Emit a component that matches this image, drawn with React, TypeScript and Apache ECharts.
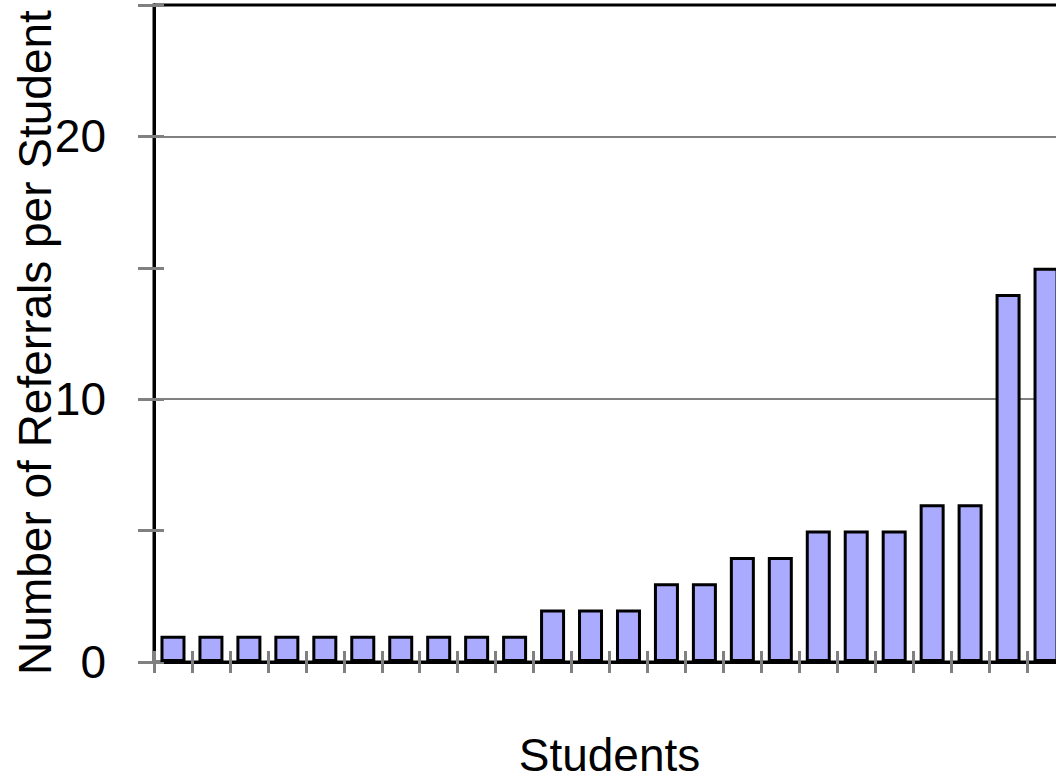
import React, { useEffect, useRef } from "react";
import * as echarts from "echarts";

const categories: string[] = [
  "1", "2", "3", "4", "5", "6", "7", "8", "9", "10", "11", "12",
  "13", "14", "15", "16", "17", "18", "19", "20", "21", "22", "23", "24",
];
const referrals: number[] = [1, 1, 1, 1, 1, 1, 1, 1, 1, 1, 2, 2, 2, 3, 3, 4, 4, 5, 5, 5, 6, 6, 14, 15];
const yLabelValues: number[] = [0, 10, 20];
const gridlineValues: number[] = [10, 20];
const xTitle = "Students";
const yTitle = "Number of Referrals per Student";

const FONT = "'Liberation Sans', Arial, sans-serif";
const GRAY = "#808080";

export default function App() {
  const ref = useRef<HTMLDivElement>(null);
  useEffect(() => {
    if (!ref.current) return;
    const chart = echarts.init(ref.current, undefined, { renderer: "svg" });
    chart.setOption({
      animation: false,
      backgroundColor: "#ffffff",
      textStyle: { fontFamily: FONT },
      grid: {
        left: 154,
        top: 5,
        right: 15,
        bottom: 118,
        containLabel: false,
        outerBoundsMode: "none",
        show: true,
        borderColor: "#000000",
        borderWidth: 3,
        backgroundColor: "transparent",
      },
      xAxis: [
        {
          type: "category",
          data: categories,
          position: "bottom",
          name: xTitle,
          nameLocation: "middle",
          nameGap: 70,
          nameMoveOverlap: false,
          nameTextStyle: { fontSize: 46, color: "#000", fontFamily: FONT },
          axisLine: { show: true, lineStyle: { color: "#000", width: 3 } },
          axisTick: { show: true, length: 11, lineStyle: { color: GRAY, width: 3 } },
          axisLabel: { show: false },
          splitLine: { show: false },
        },
        {
          type: "category",
          data: categories,
          position: "bottom",
          axisLine: { show: false },
          axisTick: { show: true, inside: true, length: 11, lineStyle: { color: GRAY, width: 3 } },
          axisLabel: { show: false },
          splitLine: { show: false },
        },
      ],
      yAxis: [
        {
          type: "value",
          min: 0,
          max: 25,
          interval: 5,
          position: "left",
          name: yTitle,
          nameLocation: "middle",
          nameGap: 96,
          nameMoveOverlap: false,
          nameTextStyle: { fontSize: 46, color: "#000", fontFamily: FONT, padding: [0, 18, 0, 0] },
          axisLine: { show: true, lineStyle: { color: "#000", width: 3 } },
          axisTick: { show: true, length: 16, lineStyle: { color: GRAY, width: 3 } },
          axisLabel: {
            show: true,
            margin: 48,
            fontSize: 46,
            color: "#000",
            fontFamily: FONT,
            formatter: (v: number) => (yLabelValues.indexOf(v) >= 0 ? String(v) : ""),
          },
          splitLine: { show: false },
        },
        {
          type: "value",
          min: 0,
          max: 25,
          interval: 5,
          position: "left",
          axisLine: { show: false },
          axisTick: { show: true, inside: true, length: 10, lineStyle: { color: GRAY, width: 3 } },
          axisLabel: { show: false },
          splitLine: { show: false },
        },
      ],
      series: [
        {
          type: "bar",
          data: referrals,
          xAxisIndex: 0,
          yAxisIndex: 0,
          barWidth: 25,
          z: 10,
          itemStyle: { color: "#AAAAFF", borderColor: "#000", borderWidth: 3 },
          markLine: {
            silent: true,
            symbol: ["none", "none"],
            label: { show: false },
            lineStyle: { color: GRAY, width: 2, type: "solid" },
            data: gridlineValues.map((v) => ({ yAxis: v })),
          },
        },
      ],
    });
    return () => chart.dispose();
  }, []);
  return (
    <div style={{ position: "fixed", left: 0, top: 0, width: 1056, height: 780, overflow: "hidden", background: "#fff" }}>
      <div ref={ref} style={{ width: 1080, height: 780 }} />
    </div>
  );
}
